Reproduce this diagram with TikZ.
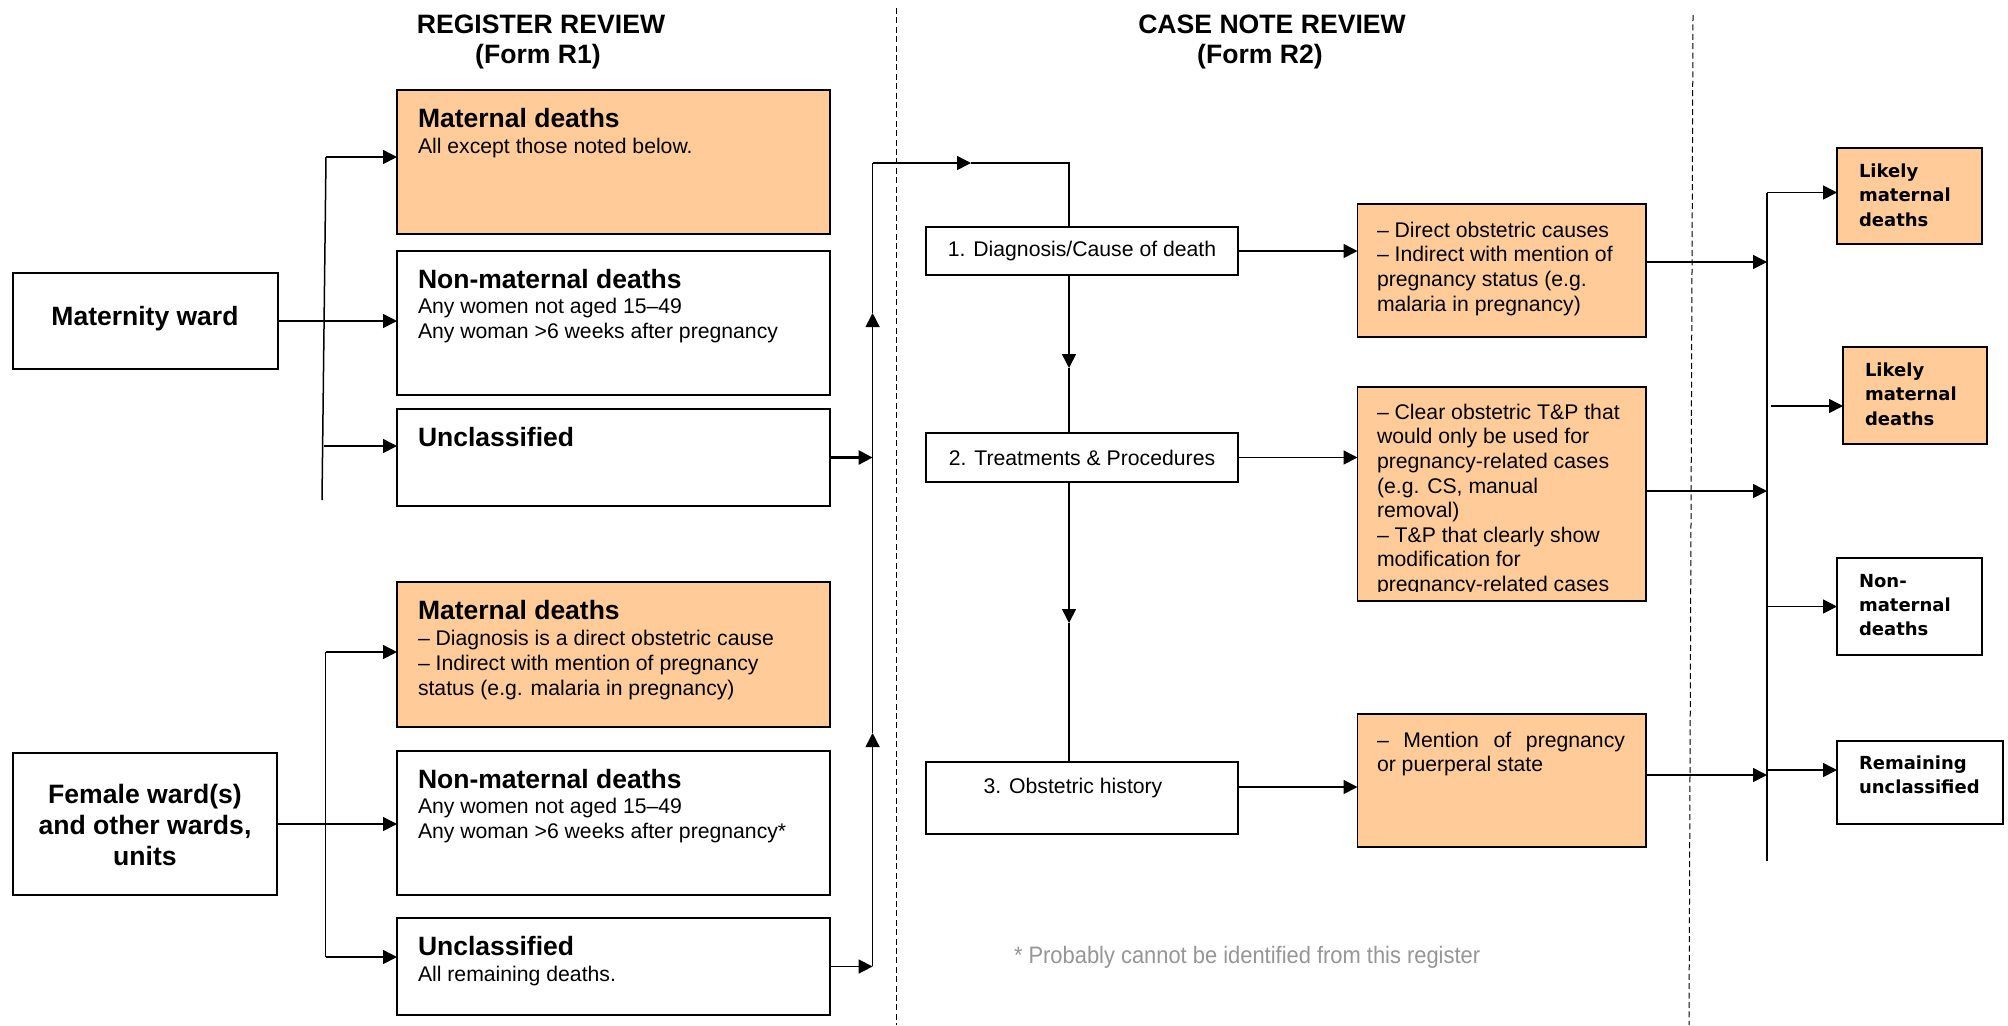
\documentclass[tikz,border=0pt]{standalone}
\usepackage{fontspec}
\setmainfont{Liberation Sans}
\newfontfamily\dejavu{DejaVu Sans}
\newfontfamily\notefont{Liberation Sans}[FakeStretch=0.92]
\usetikzlibrary{arrows.meta}
\definecolor{boxorange}{RGB}{255,204,153}
\definecolor{notegray}{RGB}{150,150,150}
\newcommand\myhead{\fontsize{13.3}{16}\selectfont\bfseries}
\newcommand\mytitle{\fontsize{13.25}{16}\selectfont\bfseries}
\newcommand\myfw{\fontsize{13.3}{15.5}\selectfont\bfseries}
\newcommand\mybody{\fontsize{10.6}{12.5}\selectfont}
\newcommand\mycase{\fontsize{10.6}{12.3}\selectfont}
\newcommand\myright{\dejavu\bfseries\fontsize{9}{12.15}\selectfont}
\newcommand\mynote{\notefont\fontsize{11.9}{14}\selectfont}
\begin{document}
\begin{tikzpicture}[x=0.5pt,y=-0.5pt,
  box/.style={draw, line width=0.9pt, inner sep=0pt, outer sep=0pt},
  obox/.style={box, fill=boxorange},
  arr/.style={-{Triangle[length=7pt,width=7pt]}, line width=0.75pt},
  conn/.style={line width=0.75pt},
  txt/.style={inner sep=0pt, outer sep=0pt, anchor=north west, align=left},
  ctxt/.style={inner sep=0pt, outer sep=0pt},
  dashline/.style={line width=0.5pt, dash pattern=on 3pt off 1.7pt}]
\useasboundingbox (0,0) rectangle (2008,1025);
\fill[white] (0,0) rectangle (2008,1025);

% headings
\node[ctxt, anchor=base, font=\myhead] (h1) at (541,33) {REGISTER REVIEW};
\node[ctxt, anchor=base, font=\myhead] (h1b) at (538,63) {(Form R1)};
\node[ctxt, anchor=base, font=\myhead] (h2) at (1272,33) {CASE NOTE REVIEW};
\node[ctxt, anchor=base, font=\myhead] (h2b) at (1260,63) {(Form R2)};

% dashed separators
\draw[dashline] (896,8) -- (896,1025);
\draw[dashline] (1693,15) -- (1689,1025);

% source wards
\node[box, minimum width=132.5pt, minimum height=48pt] (mw) at (145.5,321) {};
\node[ctxt, anchor=base, font=\mytitle] (mwt) at (145,325) {Maternity ward};
\node[box, minimum width=132pt, minimum height=71pt] (fw) at (145,824) {};
\node[ctxt, anchor=north, align=center, font=\myfw] (fwt) at (145,784) {Female ward(s)\\and other wards,\\units};

% register review boxes (upper)
\node[obox, minimum width=216.5pt, minimum height=72pt] (md1) at (613.5,162) {};
\node[txt, font=\mytitle] (md1t) at (418,108) {Maternal deaths};
\node[txt, font=\mybody] (md1b) at (418,138) {All except those noted below.};

\node[box, minimum width=216.5pt, minimum height=72pt] (nm1) at (613.5,323) {};
\node[txt, font=\mytitle] (nm1t) at (418,269) {Non-maternal deaths};
\node[txt, font=\mybody] (nm1b) at (418,298.5) {Any women not aged 15–49\\Any woman >6 weeks after pregnancy};

\node[box, minimum width=216.5pt, minimum height=48.5pt] (uc1) at (613.5,457.5) {};
\node[txt, font=\mytitle] (uc1t) at (418,427) {Unclassified};

% register review boxes (lower)
\node[obox, minimum width=216.5pt, minimum height=72.5pt] (md2) at (613.5,654.5) {};
\node[txt, font=\mytitle] (md2t) at (418,600) {Maternal deaths};
\node[txt, font=\mybody] (md2b) at (418,630) {– Diagnosis is a direct obstetric cause\\– Indirect with mention of pregnancy\\status (e.g. malaria in pregnancy)};

\node[box, minimum width=216.5pt, minimum height=72pt] (nm2) at (613.5,823) {};
\node[txt, font=\mytitle] (nm2t) at (418,769) {Non-maternal deaths};
\node[txt, font=\mybody] (nm2b) at (418,798.5) {Any women not aged 15–49\\Any woman >6 weeks after pregnancy*};

\node[box, minimum width=216.5pt, minimum height=48.5pt] (uc2) at (613.5,966.5) {};
\node[txt, font=\mytitle] (uc2t) at (418,936) {Unclassified};
\node[txt, font=\mybody] (uc2b) at (418,966) {All remaining deaths.};

% case note review
\node[box, minimum width=156pt, minimum height=24pt, font=\mycase] (c1) at (1082,251) {1. Diagnosis/Cause of death};
\node[box, minimum width=156pt, minimum height=24.5pt, font=\mycase] (c2) at (1082,457.5) {2. Treatments \& Procedures};
\node[box, minimum width=156pt, minimum height=36pt] (c3) at (1082,798) {};
\node[ctxt, anchor=base, font=\mycase] (c3t) at (1073,793) {3. Obstetric history};

\node[obox, minimum width=144.25pt, minimum height=66.5pt] (oa) at (1501.75,270.5) {};
\node[txt, font=\mycase] (oat) at (1377,222) {– Direct obstetric causes\\– Indirect with mention of\\pregnancy status (e.g.\\malaria in pregnancy)};

\node[obox, minimum width=144.25pt, minimum height=107pt] (ob) at (1501.75,494) {};
\begin{scope}
\clip (1359,389) rectangle (1645,591);
\node[txt, font=\mycase] (obt) at (1377,404) {– Clear obstetric T\&P that\\would only be used for\\pregnancy-related cases\\(e.g. CS, manual\\removal)\\– T\&P that clearly show\\modification for\\pregnancy-related cases};
\end{scope}

\node[obox, minimum width=144.25pt, minimum height=66.5pt] (oc) at (1501.75,780.5) {};
\node[txt, font=\mycase] (oct) at (1377,732) {\makebox[124pt][s]{– Mention of pregnancy}\\or puerperal state};

% outcomes
\node[obox, minimum width=72.5pt, minimum height=48pt] (r1) at (1909.5,196) {};
\node[txt, font=\myright] (r1t) at (1859,164) {Likely\\maternal\\deaths};
\node[obox, minimum width=72pt, minimum height=48.5pt] (r2) at (1915,395.5) {};
\node[txt, font=\myright] (r2t) at (1865,363) {Likely\\maternal\\deaths};
\node[box, minimum width=72.5pt, minimum height=48.5pt] (r3) at (1909.5,606.5) {};
\node[txt, font=\myright] (r3t) at (1859,574) {Non-\\maternal\\deaths};
\node[box, minimum width=83pt, minimum height=41.5pt] (r4) at (1920,782.5) {};
\node[txt, font=\myright] (r4t) at (1859,756) {Remaining\\unclassified};

\node[ctxt, anchor=base west, font=\mynote, text=notegray] (fn) at (1014,963) {* Probably cannot be identified from this register};

% ---- connectors: register review, upper
\coordinate (lb1t) at (326,157);
\coordinate (lb1b) at (322,500);
\coordinate (lb1u) at (324,446);
\draw[conn] (lb1t) -- (lb1b);
\draw[arr] (lb1t) -- (lb1t -| md1.west);
\draw[arr] (mw.east) -- (mw.east -| nm1.west);
\draw[arr] (lb1u) -- (lb1u -| uc1.west);

% lower
\coordinate (lb2t) at (325.5,652);
\coordinate (lb2b) at (325.5,957);
\draw[conn] (lb2t) -- (lb2b);
\draw[arr] (lb2t) -- (lb2t -| md2.west);
\draw[arr] (fw.east) -- (fw.east -| nm2.west);
\draw[arr] (lb2b) -- (lb2b -| uc2.west);

% collector to case note review
\coordinate (cvt) at (872.6,163);
\coordinate (cvb) at (872.6,966);
\coordinate (cvu2) at (872.6,733);
\coordinate (cvu1) at (872.6,313);
\coordinate (cvm) at (971,163);
\coordinate (ka) at (1069,163);
\draw[arr, line width=1.3pt] (uc1.east) -- (uc1.east -| cvt);
\draw[arr] (uc2.east) -- (uc2.east -| cvt);
\draw[arr] (cvb) -- (cvu2);
\draw[arr] (cvu2) -- (cvu1);
\draw[conn] (cvu1) -- (cvt);
\draw[arr] (cvt) -- (cvm);
\draw[conn] (cvm) -- (ka) -- (ka |- c1.north);

% case note chain
\coordinate (kd1) at (1069,368);
\coordinate (kd2) at (1069,623);
\draw[arr] (ka |- c1.south) -- (kd1);
\draw[conn] (kd1) -- (kd1 |- c2.north);
\draw[arr] (kd1 |- c2.south) -- (kd2);
\draw[conn] (kd2) -- (kd2 |- c3.north);

\draw[arr] (c1.east) -- (c1.east -| oa.west);
\draw[arr] (c2.east) -- (c2.east -| ob.west);
\draw[arr] ([yshift=-12.5pt]c3.north east) -- ([yshift=-12.5pt]c3.north east -| oc.west);

% to outcome collector
\coordinate (rvt) at (1767,192.5);
\coordinate (rvb) at (1767,861);
\draw[conn] (rvt) -- (rvb);
\draw[arr] ([yshift=4.25pt]oa.east) -- ([yshift=4.25pt]oa.east -| rvt);
\draw[arr] ([yshift=1.5pt]ob.east) -- ([yshift=1.5pt]ob.east -| rvt);
\draw[arr] ([yshift=2.75pt]oc.east) -- ([yshift=2.75pt]oc.east -| rvt);

\coordinate (r2s) at (1771,406);
\coordinate (r4s) at (1767,770);
\draw[arr] (rvt) -- (rvt -| r1.west);
\draw[arr] (r2s) -- (r2s -| r2.west);
\draw[arr] (r3.west -| rvt) -- (r3.west);
\draw[arr] (r4s) -- (r4s -| r4.west);
\end{tikzpicture}
\end{document}
